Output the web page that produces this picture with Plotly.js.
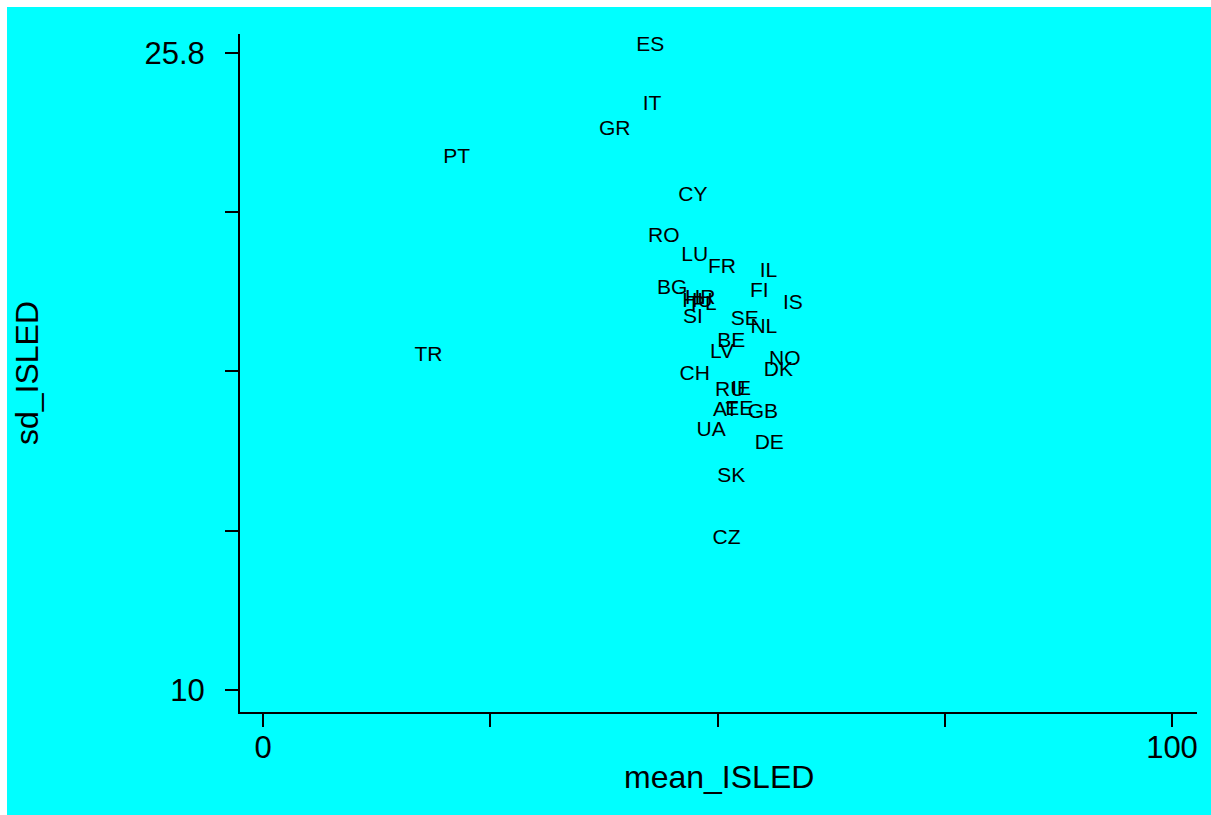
<!DOCTYPE html>
<html>
<head>
<meta charset="utf-8">
<script src="https://cdn.plot.ly/plotly-3.0.1.min.js"></script>
<style>
  html, body { margin: 0; padding: 0; background: #ffffff; }
  #chart { position: absolute; left: 7px; top: 7px; width: 1204px; height: 808px; }
</style>
</head>
<body>
<div id="chart"></div>
<script>
const countries = ["ES","IT","GR","PT","CY","RO","LU","FR","IL","BG","FI","IS","HR","PL","HU","SI","SE","NL","BE","LV","NO","DK","TR","CH","RU","IE","AT","EE","GB","UA","DE","SK","CZ"];
const meanISLED = [42.6,42.8,38.7,21.3,47.3,44.1,47.5,50.5,55.6,45.0,54.6,58.3,48.1,48.5,47.8,47.3,53.0,55.1,51.5,50.5,57.4,56.7,18.2,47.5,51.4,52.6,50.9,52.4,55.0,49.3,55.7,51.5,51.0];
const sdISLED   = [25.97,24.51,23.89,23.19,22.25,21.23,20.76,20.47,20.37,19.95,19.87,19.57,19.70,19.55,19.63,19.23,19.18,18.98,18.63,18.36,18.18,17.91,18.28,17.81,17.42,17.44,16.92,16.94,16.87,16.42,16.10,15.28,13.74];
const xTickVals = [0,25,50,75,100];
const xTickText = ["0","","","","100"];
const yTickVals = [10,13.95,17.9,21.85,25.8];
const yTickText = ["10","","","","25.8"];

const font = "Liberation Sans, Arial, sans-serif";

const trace = {
  x: meanISLED,
  y: sdISLED,
  text: countries,
  mode: "text",
  type: "scatter",
  textposition: "middle center",
  textfont: { family: font, size: 21, color: "#000000" },
  hoverinfo: "text"
};

const layout = {
  width: 1204,
  height: 808,
  paper_bgcolor: "#00ffff",
  plot_bgcolor: "#00ffff",
  margin: { l: 233, r: 14, t: 27, b: 103 },
  showlegend: false,
  xaxis: {
    range: [-2.53, 102.75],
    tickmode: "array",
    tickvals: xTickVals,
    ticktext: xTickText,
    ticks: "outside",
    ticklen: 13,
    tickwidth: 2,
    tickcolor: "#000000",
    ticklabelstandoff: -6,
    showline: true,
    linecolor: "#000000",
    linewidth: 2,
    showgrid: false,
    zeroline: false,
    tickfont: { family: font, size: 31, color: "#000000" }
  },
  yaxis: {
    range: [9.454, 26.27],
    tickmode: "array",
    tickvals: yTickVals,
    ticktext: yTickText,
    ticks: "outside",
    ticklen: 13,
    tickwidth: 2,
    tickcolor: "#000000",
    ticklabelstandoff: 14,
    showline: true,
    linecolor: "#000000",
    linewidth: 2,
    showgrid: false,
    zeroline: false,
    tickfont: { family: font, size: 31, color: "#000000" }
  },
  annotations: [
    { text: "mean_ISLED", xref: "paper", yref: "paper", x: 0.5, y: -0.0959, xanchor: "center", yanchor: "middle", showarrow: false, font: { family: font, size: 32, color: "#000000" } },
    { text: "sd_ISLED", xref: "paper", yref: "paper", x: -0.2225, y: 0.5, xanchor: "center", yanchor: "middle", textangle: -90, showarrow: false, font: { family: font, size: 32, color: "#000000" } }
  ]
};

Plotly.newPlot("chart", [trace], layout, { displayModeBar: false, staticPlot: true });
</script>
</body>
</html>
